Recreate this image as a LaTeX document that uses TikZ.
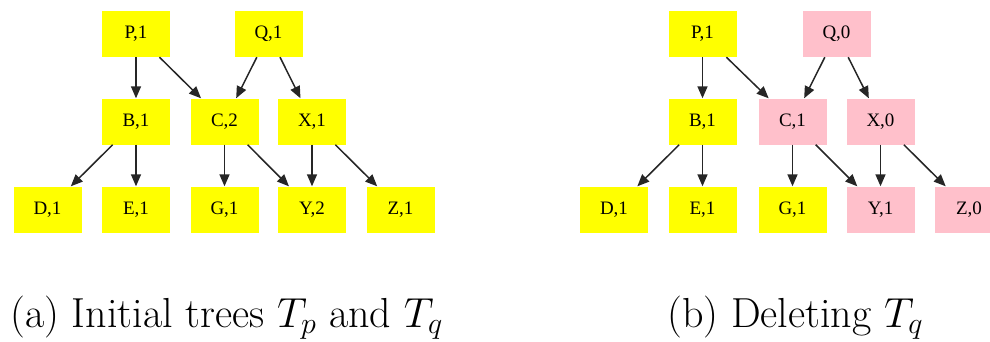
\RequirePackage{fix-cm}
\documentclass[tikz,border=0pt]{standalone}
\usepackage{fontspec}
\newfontfamily\nodefont{Liberation Serif}
\usetikzlibrary{arrows.meta}
\DeclareMathSizes{42}{42}{30}{21}
\definecolor{nodeyellow}{HTML}{FFFF00}
\definecolor{nodepink}{HTML}{FFC0CB}
\tikzset{
  tnode/.style={rectangle, minimum width=68pt, minimum height=46pt, inner sep=0pt, font=\nodefont\fontsize{19}{19}\selectfont},
  yel/.style={tnode, fill=nodeyellow},
  pnk/.style={tnode, fill=nodepink},
  edge/.style={-{Triangle[length=12pt,width=10pt]}, line width=1.5pt, black!85},
  caption/.style={font=\fontsize{42}{48}\selectfont, anchor=base west, inner sep=0pt}
}
\begin{document}
\begin{tikzpicture}[x=1pt,y=-1pt]
\useasboundingbox (0,0) rectangle (990,341);
% (a)
\node[yel] (P) at (136,34) {P,1};
\node[yel] (Q) at (268.5,34) {Q,1};
\node[yel] (B) at (136,121.5) {B,1};
\node[yel] (C) at (224.5,121.5) {C,2};
\node[yel] (X) at (312,121.5) {X,1};
\node[yel] (D) at (47.5,209.5) {D,1};
\node[yel] (E) at (136,209.5) {E,1};
\node[yel] (G) at (224.5,209.5) {G,1};
\node[yel] (Y) at (312,209.5) {Y,2};
\node[yel] (Z) at (400.5,209.5) {Z,1};
\draw[edge] (P) -- (B);
\draw[edge] (P) -- (C);
\draw[edge] (Q) -- (C);
\draw[edge] (Q) -- (X);
\draw[edge] (B) -- (D);
\draw[edge] (B) -- (E);
\draw[edge] (C) -- (G);
\draw[edge] (C) -- (Y);
\draw[edge] (X) -- (Y);
\draw[edge] (X) -- (Z);
% (b)
\node[yel] (P2) at (702.5,34) {P,1};
\node[pnk] (Q2) at (836.5,34) {Q,0};
\node[yel] (B2) at (702.5,121.5) {B,1};
\node[pnk] (C2) at (792.5,121.5) {C,1};
\node[pnk] (X2) at (880.5,121.5) {X,0};
\node[yel] (D2) at (614,209.5) {D,1};
\node[yel] (E2) at (702.5,209.5) {E,1};
\node[yel] (G2) at (792.5,209.5) {G,1};
\node[pnk] (Y2) at (880.5,209.5) {Y,1};
\node[pnk] (Z2) at (969,209.5) {Z,0};
\draw[edge] (P2) -- (B2);
\draw[edge] (P2) -- (C2);
\draw[edge] (Q2) -- (C2);
\draw[edge] (Q2) -- (X2);
\draw[edge] (B2) -- (D2);
\draw[edge] (B2) -- (E2);
\draw[edge] (C2) -- (G2);
\draw[edge] (C2) -- (Y2);
\draw[edge] (X2) -- (Y2);
\draw[edge] (X2) -- (Z2);
% captions
\node[caption] (capa) at (10,327) {(a) Initial trees $T_p$ and $T_q$};
\node[caption] (capb) at (667,327) {(b) Deleting $T_q$};
\end{tikzpicture}
\end{document}
